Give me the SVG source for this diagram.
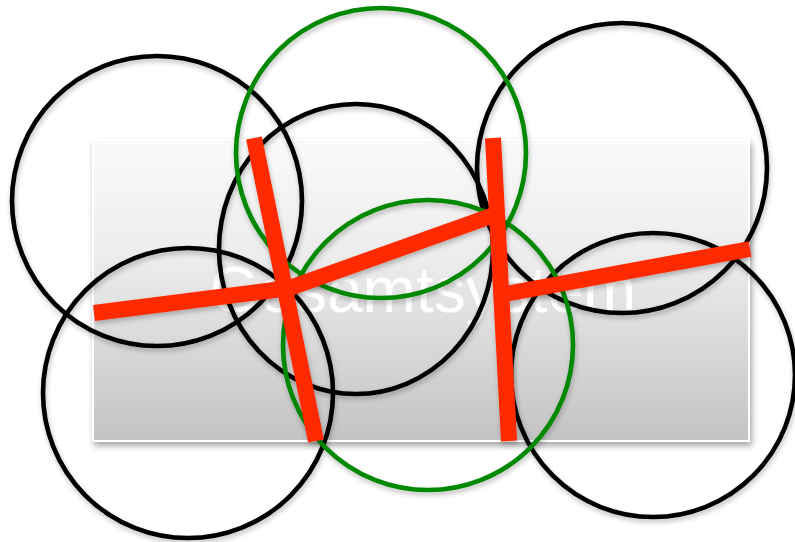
<svg xmlns="http://www.w3.org/2000/svg" width="795" height="542" viewBox="0 0 795 542">
<defs>
<linearGradient id="bg" x1="0" y1="0" x2="0" y2="1">
<stop offset="0" stop-color="#fafafa"/>
<stop offset="0.4" stop-color="#ececec"/>
<stop offset="1" stop-color="#c3c3c3"/>
</linearGradient>
<filter id="sh" x="-10%" y="-10%" width="130%" height="130%">
<feDropShadow dx="2" dy="4" stdDeviation="3" flood-color="#000" flood-opacity="0.35"/>
</filter>
<filter id="lsh" x="-10%" y="-10%" width="130%" height="130%">
<feDropShadow dx="1" dy="3" stdDeviation="2.5" flood-color="#000" flood-opacity="0.25"/>
</filter>
</defs>
<style>
.blk{fill:none;stroke:#000;stroke-width:4.6}
.grn{fill:none;stroke:#008800;stroke-width:4.6}
.red{stroke:#ff2a00;stroke-width:16;stroke-linecap:butt}
.lbl{font-family:"Liberation Sans",Arial,sans-serif;font-size:64px;fill:#fff}
</style>
<rect width="795" height="542" fill="#fff"/>
<g id="panel">
<rect x="93" y="140" width="656" height="301" fill="url(#bg)" stroke="#fff" stroke-width="2" filter="url(#sh)"/>
<text class="lbl" x="423" y="312" text-anchor="middle">Gesamtsystem</text>
</g>
<g id="circles" filter="url(#lsh)">
<circle id="c1" class="blk" cx="157" cy="201" r="145"/>
<circle id="c2" class="blk" cx="188" cy="393" r="145"/>
<ellipse id="c3" class="blk" cx="356" cy="249" rx="137" ry="145"/>
<circle id="c4" class="blk" cx="622" cy="168" r="145"/>
<circle id="c5" class="blk" cx="653" cy="375" r="142"/>
<circle id="g1" class="grn" cx="381" cy="153" r="145"/>
<circle id="g2" class="grn" cx="428" cy="345" r="145"/>
</g>
<g id="connectors" filter="url(#lsh)">
<line class="red" x1="94" y1="313" x2="290" y2="288"/>
<line class="red" x1="284" y1="290" x2="494" y2="215"/>
<line class="red" x1="254" y1="138" x2="316" y2="441"/>
<line class="red" x1="493" y1="138" x2="509" y2="441"/>
<line class="red" x1="505" y1="294" x2="750" y2="249"/>
</g>
</svg>
